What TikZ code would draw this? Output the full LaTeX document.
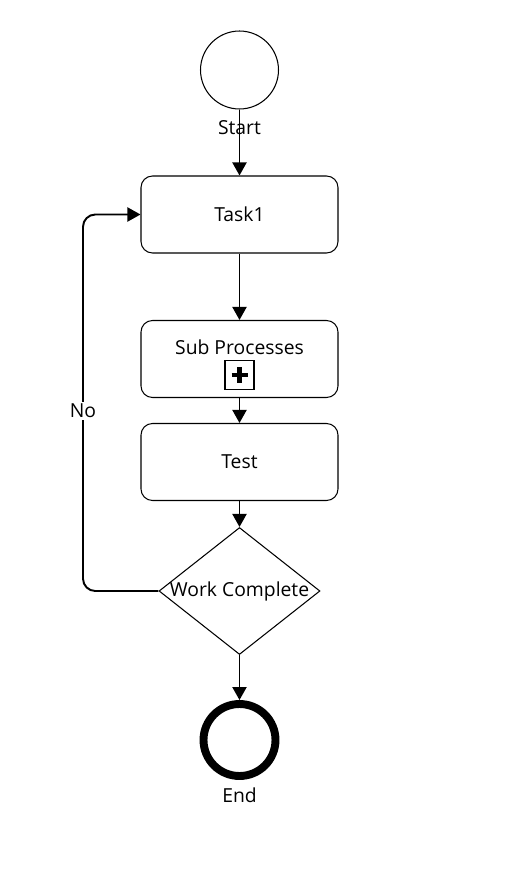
\documentclass[tikz,border=0pt]{standalone}
\usepackage{fontspec}
\setmainfont{Open Sans}
\usetikzlibrary{shapes.geometric,arrows.meta,positioning}

\begin{document}
\begin{tikzpicture}[x=0.02cm,y=-0.02cm,
  font=\fontsize{11}{13}\selectfont,
  task/.style={draw, line width=0.6pt, rounded corners=6.5pt,
    minimum width=3.94cm, minimum height=1.54cm},
  startev/.style={draw, circle, line width=0.6pt, minimum size=1.56cm},
  endev/.style={draw, circle, line width=4.5pt, minimum size=1.44cm},
  gate/.style={draw, diamond, line width=0.6pt, inner sep=0pt,
    minimum width=3.22cm, minimum height=2.54cm},
  plusbox/.style={draw, line width=0.9pt, minimum size=0.58cm, inner sep=0pt},
  flow/.style={line width=1.1pt, -{Triangle[length=0.26cm, width=0.28cm]}}]
\useasboundingbox (0,0) rectangle (512,876);

  % events, tasks and the gateway
  \node[startev, label={[label distance=2.5pt]below:Start}] (start) at (239.5,70) {};
  \node[task] (task1) at (239.5,214.5) {Task1};
  \node[task] (sub) at (239.5,359) {};
  \node (subTxt) at (239.5,347) {Sub Processes};
  \node[plusbox] (subMark) at (239.5,375) {};
  \draw[line width=2.4pt] (subMark.center) ++(-8,0) -- ++(16,0);
  \draw[line width=2.4pt] (subMark.center) ++(0,-8) -- ++(0,16);
  \node[task] (test) at (239.5,462) {Test};
  \node[gate, label=center:{Work Complete}] (dec) at (239.5,591) {};
  \node[endev, label={[label distance=1pt]below:End}] (stop) at (239.5,740) {};

  % sequence flows
  \draw[flow] (start) -- (task1);
  \draw[flow] (task1) -- (sub);
  \draw[flow] (sub) -- (test);
  \draw[flow] (test) -- (dec.north);
  \draw[flow] (dec.south) -- (stop);

  % loop back
  \coordinate (noBend) at (83,411);
  \draw[flow, rounded corners=7pt] (dec.west) -| (noBend) |- (task1.west);
  \node[fill=white, inner sep=1pt] (noLbl) at (noBend) {No};
\end{tikzpicture}
\end{document}
